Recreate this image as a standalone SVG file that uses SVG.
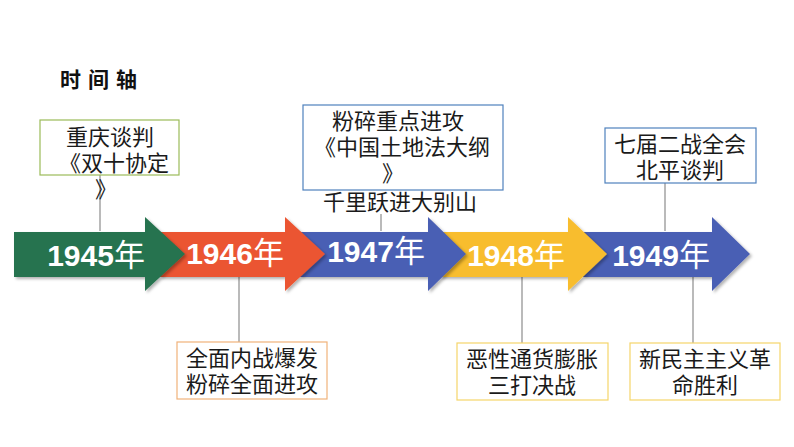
<svg xmlns="http://www.w3.org/2000/svg" width="794" height="447" viewBox="0 0 794 447">
<defs>
<style>
.box{fill:#fff;stroke-width:1.2}
.t{font-family:"Noto Sans CJK SC","Liberation Sans",sans-serif;font-size:22px;fill:#1a1a1a;text-anchor:middle}
.yr{font-family:"Liberation Sans","Noto Sans CJK SC",sans-serif;font-weight:bold;font-size:30px;fill:#fff}
.nian{font-family:"Noto Sans CJK SC",sans-serif;font-weight:normal;font-size:31px;fill:#fff}
.ln{stroke:#8c8c8c;stroke-width:1.2;fill:none}
</style>
<filter id="sh" x="-10%" y="-10%" width="130%" height="140%">
<feDropShadow dx="2" dy="2" stdDeviation="1.5" flood-color="#000" flood-opacity="0.3"/>
</filter>
</defs>
<rect width="794" height="447" fill="#fff"/>
<text x="60" y="87" font-family="Noto Sans CJK SC,sans-serif" font-weight="bold" font-size="21" letter-spacing="7" fill="#111">时间轴</text>
<g id="connectors">
<line class="ln" x1="100" y1="175" x2="100" y2="231"/>
<line class="ln" x1="381" y1="214" x2="381" y2="231"/>
<line class="ln" x1="665" y1="183" x2="665" y2="231"/>
<line class="ln" x1="239" y1="277" x2="239" y2="342"/>
<line class="ln" x1="522" y1="277" x2="522" y2="343"/>
<line class="ln" x1="693" y1="277" x2="693" y2="343"/>
</g>
<g id="arrow1949">
<polygon filter="url(#sh)" fill="#4a5fb4" points="583,232 712,232 712,217 750,254 712,291 712,277 583,277"/>
<text x="661" y="266" text-anchor="middle"><tspan class="yr">1949</tspan><tspan class="nian">年</tspan></text>
</g>
<g id="arrow1948">
<polygon filter="url(#sh)" fill="#f8bd2d" points="440,232 568,232 568,217 607,254 568,291 568,277 440,277"/>
<text x="516" y="266" text-anchor="middle"><tspan class="yr">1948</tspan><tspan class="nian">年</tspan></text>
</g>
<g id="arrow1947">
<polygon filter="url(#sh)" fill="#4a5fb4" points="300,232 428,232 428,217 466,254 428,291 428,277 300,277"/>
<text x="376" y="262" text-anchor="middle"><tspan class="yr">1947</tspan><tspan class="nian">年</tspan></text>
</g>
<g id="arrow1946">
<polygon filter="url(#sh)" fill="#eb5530" points="160,232 285,232 285,217 325,254 285,291 285,277 160,277"/>
<text x="235" y="264" text-anchor="middle"><tspan class="yr">1946</tspan><tspan class="nian">年</tspan></text>
</g>
<g id="arrow1945">
<polygon filter="url(#sh)" fill="#26734f" points="14,232 145,232 145,217 185,254 145,291 145,277 14,277"/>
<text x="96" y="266" text-anchor="middle"><tspan class="yr">1945</tspan><tspan class="nian">年</tspan></text>
</g>
<g id="box1945">
<rect class="box" x="40" y="120" width="139" height="55" stroke="#9bbb59"/>
<text class="t" x="110" y="145">重庆谈判</text>
<text class="t" x="114" y="171">《双十协定</text>
<text class="t" x="106" y="197">》</text>
</g>
<g id="box1947">
<rect class="box" x="303" y="105" width="200" height="85" stroke="#4f81bd"/>
<text class="t" x="398" y="129">粉碎重点进攻</text>
<text class="t" x="402" y="155">《中国土地法大纲</text>
<text class="t" x="393" y="181">》</text>
<text class="t" x="400" y="210">千里跃进大别山</text>
</g>
<g id="box1949">
<rect class="box" x="605" y="128" width="151" height="55" stroke="#4f81bd"/>
<text class="t" x="680" y="152">七届二战全会</text>
<text class="t" x="680" y="178">北平谈判</text>
</g>
<g id="box1946">
<rect class="box" x="177" y="342" width="150" height="57" stroke="#f0b27a"/>
<text class="t" x="252" y="366">全面内战爆发</text>
<text class="t" x="252" y="392">粉碎全面进攻</text>
</g>
<g id="box1948">
<rect class="box" x="457" y="343" width="151" height="57" stroke="#f5d56a"/>
<text class="t" x="532" y="367">恶性通货膨胀</text>
<text class="t" x="532" y="393">三打决战</text>
</g>
<g id="boxVictory">
<rect class="box" x="630" y="343" width="150" height="57" stroke="#f5d56a"/>
<text class="t" x="705" y="367">新民主主义革</text>
<text class="t" x="705" y="393">命胜利</text>
</g>
</svg>
